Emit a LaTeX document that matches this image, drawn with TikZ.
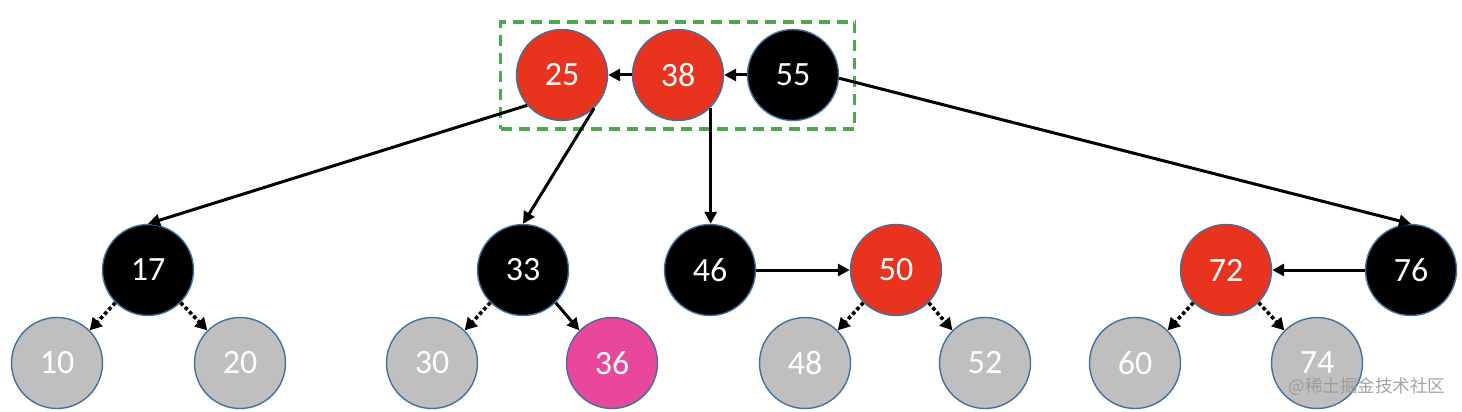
\documentclass[tikz,border=0pt]{standalone}
\usepackage{fontspec}
\setmainfont{Carlito}
\newfontfamily\cjk{Noto Sans CJK SC}
\usetikzlibrary{arrows.meta}
\definecolor{rbred}{HTML}{E8331F}
\definecolor{rbgray}{HTML}{BFBFBF}
\definecolor{rbpink}{HTML}{E8479B}
\definecolor{rbline}{HTML}{41719C}
\definecolor{rbgreen}{HTML}{4EA64E}
\tikzset{
  x=1pt, y=-1pt,
  tn/.style={circle, minimum size=91pt, inner sep=0pt, draw=rbline, line width=1.4pt,
             text=white, font=\fontsize{34}{34}\selectfont},
  rn/.style={tn, fill=rbred},
  bn/.style={tn, fill=black},
  gn/.style={tn, fill=rbgray},
  pn/.style={tn, fill=rbpink},
  edge/.style={line width=3pt, -{Triangle[length=12pt,width=12pt]}},
  dedge/.style={line width=3.6pt, dash pattern=on 3.6pt off 2.6pt, -{Triangle[length=12pt,width=13pt]}},
  groupbox/.style={draw=rbgreen, line width=3.8pt, dash pattern=on 11pt off 7pt}
}
\begin{document}
\begin{tikzpicture}
\useasboundingbox[fill=white] (0,0) rectangle (1462,412);
\node[groupbox, minimum width=354pt, minimum height=107pt, inner sep=0pt] (box) at (677.5,75.5) {};
\node[rn] (n25) at (562,75) {25};
\node[rn] (n38) at (678,75) {38};
\node[bn] (n55) at (793,75) {55};
\node[bn] (n17) at (148,270) {17};
\node[bn] (n33) at (523,270) {33};
\node[bn] (n46) at (710,270) {46};
\node[rn] (n50) at (896,270) {50};
\node[rn] (n72) at (1226,270) {72};
\node[bn] (n76) at (1411,270) {76};
\node[gn] (n10) at (57,363) {10};
\node[gn] (n20) at (240,363) {20};
\node[gn] (n30) at (432,363) {30};
\node[pn] (n36) at (612,363) {36};
\node[gn] (n48) at (805,363) {48};
\node[gn] (n52) at (985,363) {52};
\node[gn] (n60) at (1135,363) {60};
\node[gn] (n74) at (1317,363) {74};
\draw[edge] (n38.west) -- (n25.east);
\draw[edge] (n55.west) -- (n38.east);
\draw[edge] (n25.221) -- (n17.north);
\draw[edge] (n25.-46) -- (n33.north);
\draw[edge] (n38.-45) -- (n38.-45 |- n46.north);
\draw[edge] (n55.-4) -- (n76.north);
\draw[edge] (n46.east) -- (n50.west);
\draw[edge] (n76.west) -- (n72.east);
\draw[dedge] (n17.225) -- (n10.45);
\draw[dedge] (n17.-45) -- (n20.135);
\draw[dedge] (n33.225) -- (n30.45);
\draw[edge] (n33.-45) -- (n36.135);
\draw[dedge] (n50.225) -- (n48.45);
\draw[dedge] (n50.-45) -- (n52.135);
\draw[dedge] (n72.225) -- (n60.45);
\draw[dedge] (n72.-45) -- (n74.135);
\node[text=gray!80, opacity=0.9, font=\cjk\fontsize{17.5}{17.5}\selectfont, inner sep=0pt] (wm) at (1367,387) {@稀土掘金技术社区};
\end{tikzpicture}
\end{document}
